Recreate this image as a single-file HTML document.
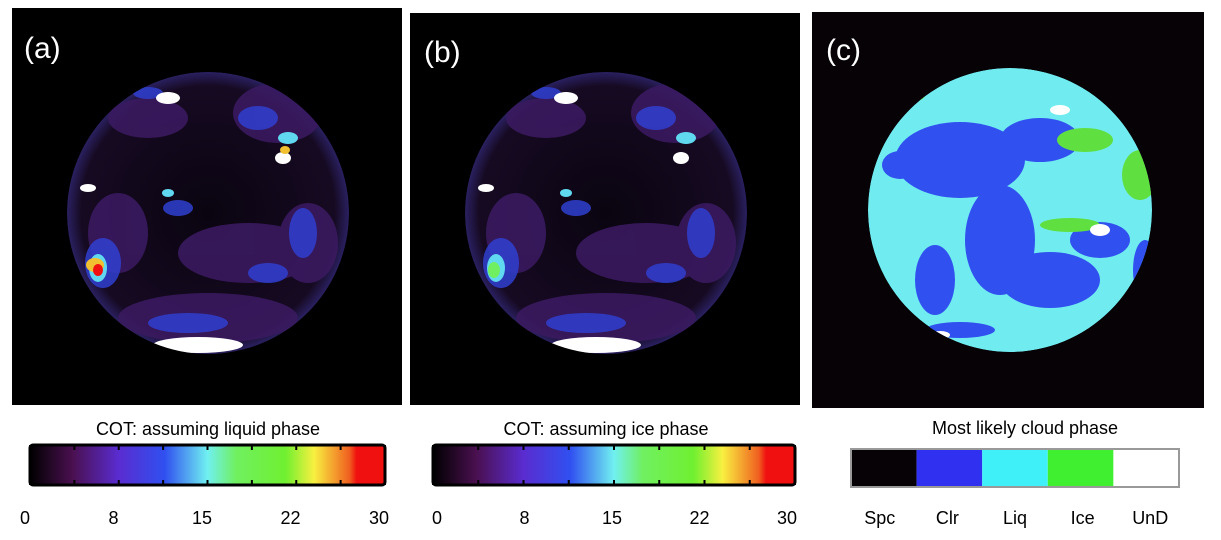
<!DOCTYPE html>
<html><head><meta charset="utf-8">
<style>
html,body{margin:0;padding:0;background:#fff;width:1221px;height:540px;overflow:hidden;font-family:"Liberation Sans",sans-serif}
svg{position:absolute;left:0;top:0}
</style></head>
<body>
<svg width="1221" height="540" viewBox="0 0 1221 540">
<defs>
<linearGradient id="cotgrad" x1="0" x2="1" y1="0" y2="0">
<stop offset="0" stop-color="#000"/><stop offset="0.12" stop-color="#4a1050"/>
<stop offset="0.25" stop-color="#5a2cd0"/><stop offset="0.38" stop-color="#3050f0"/>
<stop offset="0.5" stop-color="#70f0f0"/><stop offset="0.58" stop-color="#70f060"/>
<stop offset="0.72" stop-color="#70f030"/><stop offset="0.8" stop-color="#f8f040"/>
<stop offset="0.9" stop-color="#f06020"/><stop offset="0.92" stop-color="#f01010"/>
<stop offset="1" stop-color="#f01010"/></linearGradient>
<radialGradient id="dark" cx="0.5" cy="0.5" r="0.5">
<stop offset="0" stop-color="#0a0410"/><stop offset="0.9" stop-color="#160a22"/><stop offset="1" stop-color="#2a2060"/></radialGradient>
<clipPath id="ca"><circle cx="208" cy="213" r="141"/></clipPath>
<clipPath id="cb"><circle cx="606" cy="213" r="141"/></clipPath>
<clipPath id="cc"><circle cx="1010" cy="210" r="142"/></clipPath>
<g id="cloudsAB">
<g fill="#3a1a60" opacity="0.9">
<ellipse cx="-60" cy="-95" rx="40" ry="20"/><ellipse cx="70" cy="-100" rx="45" ry="30"/>
<ellipse cx="40" cy="40" rx="70" ry="30"/><ellipse cx="-90" cy="20" rx="30" ry="40"/>
<ellipse cx="0" cy="105" rx="90" ry="25"/><ellipse cx="100" cy="30" rx="30" ry="40"/></g>
<g fill="#3040d0" opacity="0.85">
<ellipse cx="50" cy="-95" rx="20" ry="12"/><ellipse cx="-105" cy="50" rx="18" ry="25"/>
<ellipse cx="95" cy="20" rx="14" ry="25"/><ellipse cx="-30" cy="-5" rx="15" ry="8"/>
<ellipse cx="60" cy="60" rx="20" ry="10"/><ellipse cx="-20" cy="110" rx="40" ry="10"/>
<ellipse cx="-60" cy="-120" rx="15" ry="6"/></g>
<g fill="#60d8f0"><ellipse cx="-110" cy="55" rx="9" ry="14"/><ellipse cx="80" cy="-75" rx="10" ry="6"/><ellipse cx="-40" cy="-20" rx="6" ry="4"/></g>
<g fill="#fff"><ellipse cx="-40" cy="-115" rx="12" ry="6"/><ellipse cx="75" cy="-55" rx="8" ry="6"/><ellipse cx="-10" cy="132" rx="45" ry="8"/><ellipse cx="-120" cy="-25" rx="8" ry="4"/><ellipse cx="100" cy="-110" rx="6" ry="5"/></g>
</g>
</defs>

<rect x="12" y="8" width="390" height="397" fill="#000"/>
<rect x="410" y="13" width="390" height="392" fill="#000"/>
<rect x="812" y="12" width="392" height="396" fill="#060206"/>

<text x="24" y="58" font-size="30" fill="#fff">(a)</text>
<text x="424" y="62" font-size="30" fill="#fff">(b)</text>
<text x="826" y="60" font-size="30" fill="#fff">(c)</text>

<g clip-path="url(#ca)">
<circle cx="208" cy="213" r="141" fill="url(#dark)"/>
<use href="#cloudsAB" x="208" y="213"/>
<g fill="#f0c030"><ellipse cx="95" cy="265" rx="9" ry="7"/><ellipse cx="285" cy="150" rx="5" ry="4"/></g>
<ellipse cx="98" cy="270" rx="5" ry="6" fill="#f01010"/>
</g>

<g clip-path="url(#cb)">
<circle cx="606" cy="213" r="141" fill="url(#dark)"/>
<use href="#cloudsAB" x="606" y="213"/>
<ellipse cx="494" cy="270" rx="6" ry="8" fill="#70f060"/>
</g>

<g clip-path="url(#cc)">
<circle cx="1010" cy="210" r="142" fill="#70ecf0"/>
<g fill="#3050f0">
<ellipse cx="960" cy="160" rx="65" ry="38"/><ellipse cx="1040" cy="140" rx="40" ry="22"/>
<ellipse cx="1000" cy="240" rx="35" ry="55"/><ellipse cx="1050" cy="280" rx="50" ry="28"/>
<ellipse cx="1100" cy="240" rx="30" ry="18"/><ellipse cx="935" cy="280" rx="20" ry="35"/>
<ellipse cx="1145" cy="270" rx="12" ry="30"/><ellipse cx="900" cy="165" rx="18" ry="14"/>
<ellipse cx="960" cy="330" rx="35" ry="8"/></g>
<g fill="#60e040"><ellipse cx="1085" cy="140" rx="28" ry="12"/><ellipse cx="1140" cy="175" rx="18" ry="25"/>
<ellipse cx="1070" cy="225" rx="30" ry="7"/><ellipse cx="915" cy="95" rx="10" ry="6"/></g>
<g fill="#fff"><ellipse cx="1060" cy="110" rx="10" ry="5"/><ellipse cx="1100" cy="230" rx="10" ry="6"/><ellipse cx="940" cy="335" rx="10" ry="4"/></g>
</g>

<text x="208" y="435" font-size="18" text-anchor="middle" fill="#000">COT:  assuming liquid phase</text>
<text x="606" y="435" font-size="18" text-anchor="middle" fill="#000">COT:  assuming ice phase</text>
<text x="1025" y="434" font-size="18" text-anchor="middle" fill="#000">Most likely cloud phase</text>

<rect x="30" y="445" width="355" height="40" rx="3" fill="url(#cotgrad)" stroke="#000" stroke-width="3"/>
<rect x="433" y="445" width="362" height="40" rx="3" fill="url(#cotgrad)" stroke="#000" stroke-width="3"/>
<g id="ticks"></g>
<g id="phasebar"></g>
</svg>
<script>
const cotTicks = ["0","8","15","22","30"];
const cotValues = [0,8,15,22,30];
const phaseLabels = ["Spc","Clr","Liq","Ice","UnD"];
const phaseColors = ["#060206","#3030f0","#40f0f8","#40f030","#ffffff"];
const NS="http://www.w3.org/2000/svg";
const tg=document.getElementById('ticks');
const bars=[{x0:30,x1:385,lx0:25,lx1:379},{x0:433,x1:795,lx0:437,lx1:787}];
bars.forEach(function(b){
  for(let i=0;i<=8;i++){
    const x=b.x0+(b.x1-b.x0)*i/8;
    [[445,450],[480,485]].forEach(function(yy){
      const l=document.createElementNS(NS,'line');
      l.setAttribute('x1',x);l.setAttribute('x2',x);l.setAttribute('y1',yy[0]);l.setAttribute('y2',yy[1]);
      l.setAttribute('stroke','#000');l.setAttribute('stroke-width','2');
      
      
      tg.appendChild(l);
    });
  }
  cotTicks.forEach(function(lab,i){
    const t=document.createElementNS(NS,'text');
    const x=b.lx0+(b.lx1-b.lx0)*i/(cotTicks.length-1);
    t.setAttribute('x',x);t.setAttribute('y',524);t.setAttribute('font-size','18');
    t.setAttribute('text-anchor','middle');
    t.textContent=lab;
    
    
    tg.appendChild(t);
  });
});
const pg=document.getElementById('phasebar');
const px0=851,px1=1179,pw=(px1-px0)/phaseLabels.length;
phaseLabels.forEach(function(lab,i){
  const r=document.createElementNS(NS,'rect');
  r.setAttribute('x',px0+i*pw);r.setAttribute('y',449);r.setAttribute('width',pw);r.setAttribute('height',38);
  r.setAttribute('fill',phaseColors[i]);
  
  
  pg.appendChild(r);
  const t=document.createElementNS(NS,'text');
  t.setAttribute('x',px0+i*pw+pw/2+(i-2)*2);t.setAttribute('y',524);t.setAttribute('font-size','18');
  t.setAttribute('text-anchor','middle');t.textContent=lab;
  
  
  pg.appendChild(t);
});
const o=document.createElementNS(NS,'rect');
o.setAttribute('x',px0);o.setAttribute('y',449);o.setAttribute('width',px1-px0);o.setAttribute('height',38);
o.setAttribute('fill','none');o.setAttribute('stroke','#999');o.setAttribute('stroke-width','2');


pg.appendChild(o);
</script>
</body></html>
